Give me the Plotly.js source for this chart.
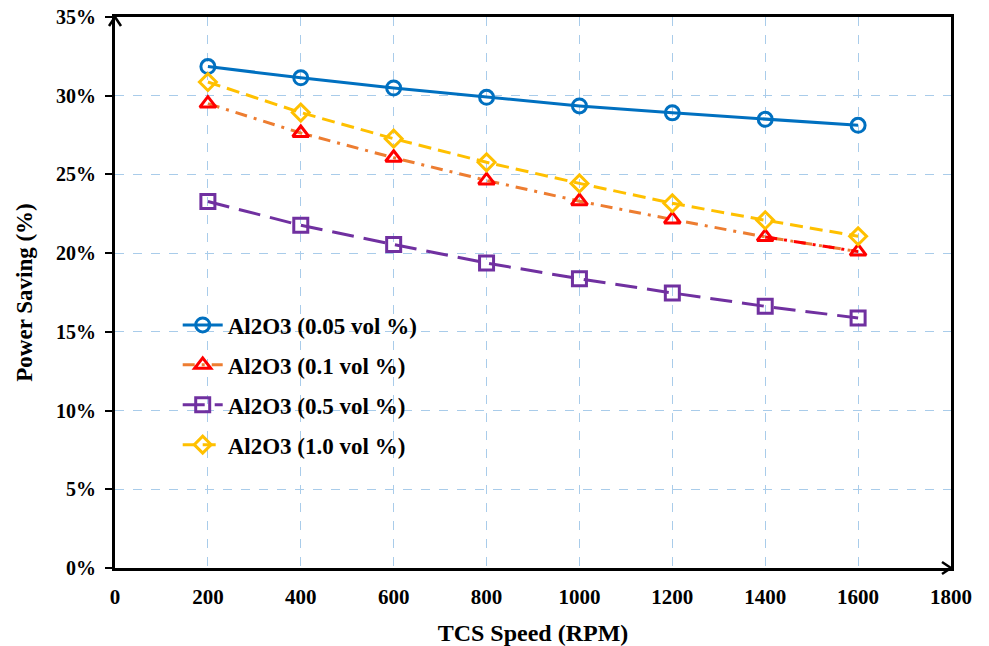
<!DOCTYPE html>
<html>
<head>
<meta charset="utf-8">
<script src="https://cdn.plot.ly/plotly-3.0.1.min.js"></script>
<style>
  html, body { margin: 0; padding: 0; background: #fff; }
  #chart { width: 989px; height: 646px; }
</style>
</head>
<body>
<div id="chart"></div>
<script>
// TCS speed (RPM)
const speeds = [200, 400, 600, 800, 1000, 1200, 1400, 1600];

// Power saving (fraction) for each Al2O3 concentration
const al005 = [0.3185, 0.3114, 0.3049, 0.2990, 0.2935, 0.2891, 0.2850, 0.2812];
const al01  = [0.2950, 0.2763, 0.2606, 0.2462, 0.2330, 0.2214, 0.2103, 0.2010];
const al05  = [0.2328, 0.2177, 0.2055, 0.1937, 0.1837, 0.1747, 0.1662, 0.1588];
const al10  = [0.3087, 0.2893, 0.2727, 0.2577, 0.2443, 0.2317, 0.2209, 0.2107];

const seriesNames = [
  "Al2O3 (0.05 vol %)",
  "Al2O3 (0.1 vol %)",
  "Al2O3 (0.5 vol %)",
  "Al2O3 (1.0 vol %)"
];

const xTicks = [0, 200, 400, 600, 800, 1000, 1200, 1400, 1600, 1800];
const yTicks = [0, 0.05, 0.10, 0.15, 0.20, 0.25, 0.30, 0.35];
const yTickText = ["0%", "5%", "10%", "15%", "20%", "25%", "30%", "35%"];

const FONT = "'Liberation Serif', 'Times New Roman', serif";
const LW = 3;

const traces = [
  {
    x: speeds, y: al005, name: seriesNames[0], legendgroup: "a",
    mode: "lines+markers",
    line: { color: "#0070C0", width: LW },
    marker: { symbol: "circle-open", size: 14, color: "#0070C0", line: { width: LW, color: "#0070C0" } }
  },
  {
    x: speeds, y: al01, name: seriesNames[1], legendgroup: "b",
    mode: "lines+markers",
    line: { color: "#ED7D31", width: LW, dash: "12px,7px,3px,7px" },
    marker: { symbol: "triangle-up-open", size: 14, color: "#FF0000", line: { width: LW, color: "#FF0000" } }
  },
  // final segment of the 0.1 vol % curve is drawn in red
  {
    x: speeds.slice(-2), y: al01.slice(-2), showlegend: false, hoverinfo: "skip",
    mode: "lines",
    line: { color: "#FF0000", width: LW, dash: "12px,7px,3px,7px" }
  },
  {
    x: speeds, y: al05, name: seriesNames[2], legendgroup: "c",
    mode: "lines+markers",
    line: { color: "#7030A0", width: LW, dash: "22px,10px" },
    marker: { symbol: "square-open", size: 14, color: "#7030A0", line: { width: LW, color: "#7030A0" } }
  },
  {
    x: speeds, y: al10, name: seriesNames[3], legendgroup: "d",
    mode: "lines+markers",
    line: { color: "#FFC000", width: LW, dash: "13px,7px" },
    marker: { symbol: "diamond-open", size: 13, color: "#FFC000", line: { width: LW, color: "#FFC000" } }
  }
];

// small chevron arrowheads at the ends of the axes
const arrowHeads = [
  { type: "line", xref: "paper", yref: "paper", xsizemode: "pixel", ysizemode: "pixel",
    xanchor: 0, yanchor: 1, x0: -6, y0: -9, x1: 0, y1: 0, line: { color: "#000", width: 2.5 } },
  { type: "line", xref: "paper", yref: "paper", xsizemode: "pixel", ysizemode: "pixel",
    xanchor: 0, yanchor: 1, x0: 6, y0: -9, x1: 0, y1: 0, line: { color: "#000", width: 2.5 } },
  { type: "line", xref: "paper", yref: "paper", xsizemode: "pixel", ysizemode: "pixel",
    xanchor: 1, yanchor: 0, x0: -9, y0: 6, x1: 0, y1: 0, line: { color: "#000", width: 2.5 } },
  { type: "line", xref: "paper", yref: "paper", xsizemode: "pixel", ysizemode: "pixel",
    xanchor: 1, yanchor: 0, x0: -9, y0: -6, x1: 0, y1: 0, line: { color: "#000", width: 2.5 } }
];

const layout = {
  width: 989, height: 646,
  margin: { l: 115, r: 38, t: 17, b: 78 },
  paper_bgcolor: "#fff", plot_bgcolor: "#fff",
  font: { family: FONT, color: "#000", size: 20, weight: "bold" },
  showlegend: true,
  legend: {
    x: 0.075, y: 0.48, xanchor: "left", yanchor: "top",
    bgcolor: "rgba(255,255,255,0)",
    font: { family: FONT, size: 23, color: "#000", weight: "bold" },
    itemwidth: 40,
    tracegroupgap: 7
  },
  xaxis: {
    range: [0, 1800],
    tickvals: xTicks,
    ticktext: xTicks.map(String),
    tickfont: { family: FONT, size: 21, weight: "bold" },
    ticklabelstandoff: 8,
    showline: true, linecolor: "#000", linewidth: 3, mirror: true,
    ticks: "",
    showgrid: true, gridcolor: "#A9CCEA", griddash: "dash", gridwidth: 1,
    zeroline: false,
    title: { text: "TCS Speed (RPM)", font: { family: FONT, size: 24, weight: "bold" }, standoff: 16 }
  },
  yaxis: {
    range: [0, 0.35],
    tickvals: yTicks,
    ticktext: yTickText,
    tickfont: { family: FONT, size: 20, weight: "bold" },
    ticklabelstandoff: 5,
    showline: true, linecolor: "#000", linewidth: 3, mirror: true,
    ticks: "outside", ticklen: 7, tickwidth: 2, tickcolor: "#000",
    showgrid: true, gridcolor: "#A9CCEA", griddash: "dash", gridwidth: 1,
    zeroline: false,
    title: { text: "Power Saving (%)", font: { family: FONT, size: 23, weight: "bold" }, standoff: 17 }
  },
  shapes: arrowHeads
};

Plotly.newPlot("chart", traces, layout, { displayModeBar: false, staticPlot: true });
</script>
</body>
</html>
